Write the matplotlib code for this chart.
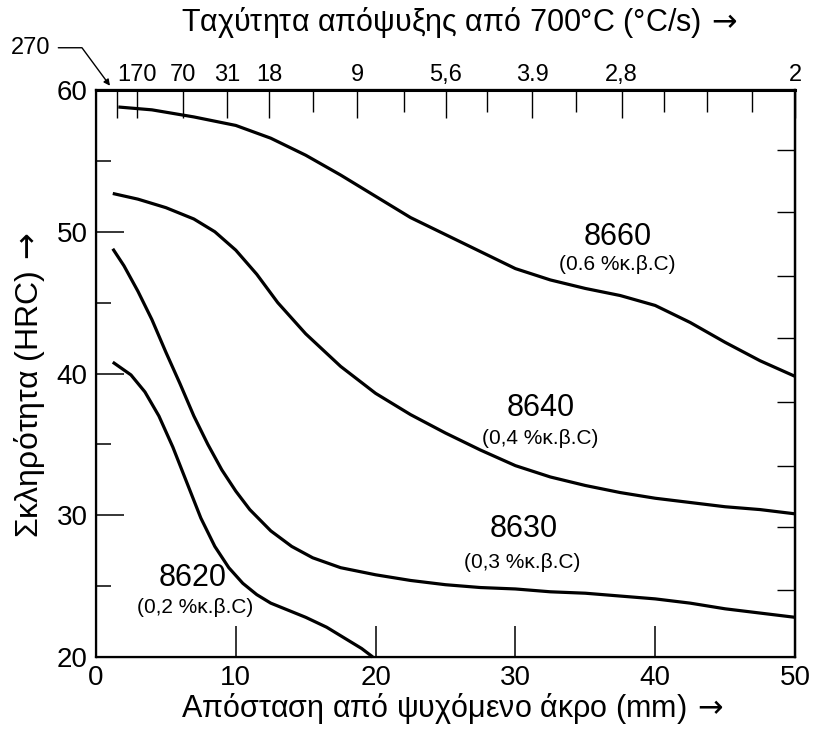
import matplotlib
matplotlib.use('Agg')
import matplotlib.pyplot as plt

plt.rcParams['font.family'] = ['Liberation Sans', 'DejaVu Sans']
plt.rcParams['mathtext.fontset'] = 'dejavusans'

# Jominy curves: distance (mm), hardness (HRC)
x_8660 = [1.6, 4.0, 7.0, 10.0, 12.5, 15.0, 17.5, 20.0, 22.5, 25.0, 27.5, 30.0,
          32.5, 35.0, 37.5, 40.0, 42.5, 45.0, 47.5, 50.0]
y_8660 = [58.8, 58.6, 58.1, 57.5, 56.6, 55.4, 54.0, 52.5, 51.0, 49.8, 48.6, 47.4,
          46.6, 46.0, 45.5, 44.8, 43.6, 42.2, 40.9, 39.8]

x_8640 = [1.2, 3.0, 5.0, 7.0, 8.5, 10.0, 11.5, 13.0, 15.0, 17.5, 20.0, 22.5, 25.0,
          27.5, 30.0, 32.5, 35.0, 37.5, 40.0, 42.5, 45.0, 47.5, 50.0]
y_8640 = [52.7, 52.3, 51.7, 50.9, 50.0, 48.7, 47.0, 45.0, 42.8, 40.5, 38.6, 37.1, 35.8,
          34.6, 33.5, 32.7, 32.1, 31.6, 31.2, 30.9, 30.6, 30.4, 30.1]

x_8630 = [1.2, 2.0, 3.0, 4.0, 5.0, 6.0, 7.0, 8.0, 9.0, 10.0, 11.0, 12.5, 14.0, 15.5,
          17.5, 20.0, 22.5, 25.0, 27.5, 30.0, 32.5, 35.0, 37.5, 40.0, 42.5, 45.0,
          47.5, 50.0]
y_8630 = [48.8, 47.6, 45.8, 43.8, 41.5, 39.3, 37.0, 35.0, 33.2, 31.7, 30.4, 28.9, 27.8,
          27.0, 26.3, 25.8, 25.4, 25.1, 24.9, 24.8, 24.6, 24.5, 24.3, 24.1, 23.8,
          23.4, 23.1, 22.8]

x_8620 = [1.2, 2.5, 3.5, 4.5, 5.5, 6.5, 7.5, 8.5, 9.5, 10.5, 11.5, 12.5, 13.5, 15.0,
          16.5, 18.0, 19.0, 19.8]
y_8620 = [40.8, 39.9, 38.7, 37.0, 34.8, 32.3, 29.8, 27.8, 26.3, 25.2, 24.4, 23.8,
          23.4, 22.8, 22.1, 21.2, 20.6, 20.0]

# curve names and carbon contents
steel_names = ['8660', '8640', '8630', '8620']
steel_carbon = ['(0.6 %κ.β.C)', '(0,4 %κ.β.C)', '(0,3 %κ.β.C)', '(0,2 %κ.β.C)']
name_pos = [(37.3, 49.6), (31.8, 37.6), (30.6, 29.0), (6.9, 25.6)]
carbon_pos = [(37.3, 47.7), (31.8, 35.4), (30.5, 26.7), (7.1, 23.5)]

# upper scale: cooling rate at 700 C, placed at distances (mm)
rate_pos = [1.5, 2.9, 6.2, 9.4, 12.4, 18.7, 25.0, 31.2, 37.6, 50.0]
rate_labels = ['', '170', '70', '31', '18', '9', '5,6', '3.9', '2,8', '2']
rate_minor = [15.5, 22.0, 28.0, 34.3, 40.6, 43.7, 46.9]

x_ticks = [0, 10, 20, 30, 40, 50]
y_ticks = [20, 30, 40, 50, 60]
y_minor = [25, 35, 45, 55]
right_ticks = [55.8, 51.4, 46.9, 42.5, 38.0, 33.5, 29.2, 24.7]

ARROW = r'$\,\rightarrow$'

fig = plt.figure(figsize=(8.14, 7.38), dpi=100)
ax = fig.add_axes([96 / 814, 1 - 657 / 738, (795 - 96) / 814, (657 - 90) / 738])

for xs, ys in [(x_8660, y_8660), (x_8640, y_8640), (x_8630, y_8630), (x_8620, y_8620)]:
    ax.plot(xs, ys, color='black', linewidth=2.3, solid_capstyle='butt', clip_on=False)

for name, carbon, p1, p2 in zip(steel_names, steel_carbon, name_pos, carbon_pos):
    ax.text(p1[0], p1[1], name, ha='center', va='center', fontsize=22)
    ax.text(p2[0], p2[1], carbon, ha='center', va='center', fontsize=15)

ax.set_xlim(0, 50)
ax.set_ylim(20, 60)
ax.set_xticks(x_ticks)
ax.set_yticks(y_ticks)
ax.set_yticks(y_minor, minor=True)
ax.tick_params(axis='x', which='major', direction='in', length=22, width=1.1,
               labelsize=20, pad=6)
ax.tick_params(axis='y', which='major', direction='in', length=20, width=1.1,
               labelsize=20, pad=6)
ax.tick_params(axis='y', which='minor', direction='in', length=11, width=1.1)
for s in ax.spines.values():
    s.set_linewidth(1.6)

# right-hand ticks
ax_r = ax.twinx()
ax_r.set_ylim(20, 60)
ax_r.set_yticks(right_ticks)
ax_r.tick_params(axis='y', direction='in', length=13, width=1.0, labelright=False)
ax_r.spines['right'].set_linewidth(1.6)

# upper scale
ax_t = ax.twiny()
ax_t.set_xlim(0, 50)
ax_t.set_xticks(rate_pos)
ax_t.set_xticklabels(rate_labels)
ax_t.set_xticks(rate_minor, minor=True)
ax_t.tick_params(axis='x', which='major', direction='in', length=20, width=1.0,
                 labelsize=17, pad=3)
ax_t.tick_params(axis='x', which='minor', direction='in', length=16, width=1.0)
ax_t.spines['top'].set_linewidth(2.2)

ax_t.annotate('270', xy=(1.0, 60.3), xycoords='data', xytext=(-60, 38),
              textcoords='offset pixels', ha='right', va='center', fontsize=17,
              annotation_clip=False,
              arrowprops=dict(arrowstyle='-|>', color='black', lw=1.0,
                              mutation_scale=9, shrinkA=4, shrinkB=0, relpos=(1, 0.5),
                              connectionstyle='angle,angleA=0,angleB=-53.6,rad=0'))

fig.text(459 / 814, 1 - 22 / 738, 'Ταχύτητα απόψυξης από 700°C (°C/s)' + ARROW,
         ha='center', va='center', fontsize=22)
fig.text(452 / 814, 1 - 708 / 738, 'Απόσταση από ψυχόμενο άκρο (mm)' + ARROW,
         ha='center', va='center', fontsize=22)
fig.text(30 / 814, 1 - 385 / 738, 'Σκληρότητα (HRC)' + ARROW, rotation=90,
         ha='center', va='center', fontsize=23)

fig.savefig('out.png', dpi=100)
